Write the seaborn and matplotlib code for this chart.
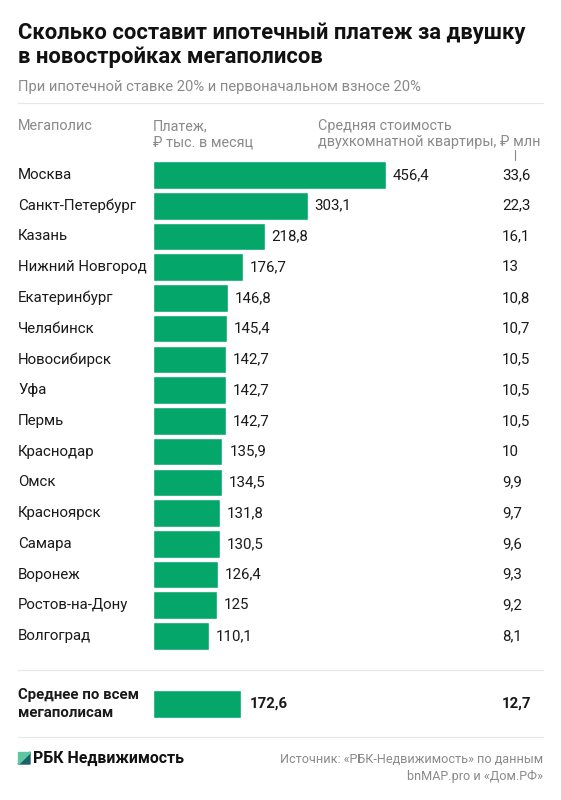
import numpy as np
import matplotlib.pyplot as plt
import matplotlib.patches as mpatches
import matplotlib.transforms as mtransforms
import pandas as pd
import seaborn as sns

sns.set_style('white')
plt.rcParams['font.family'] = ['Roboto', 'DejaVu Sans']

cities = ['Москва', 'Санкт-Петербург', 'Казань', 'Нижний Новгород', 'Екатеринбург',
          'Челябинск', 'Новосибирск', 'Уфа', 'Пермь', 'Краснодар', 'Омск',
          'Красноярск', 'Самара', 'Воронеж', 'Ростов-на-Дону', 'Волгоград']
payment = [456.4, 303.1, 218.8, 176.7, 146.8, 145.4, 142.7, 142.7, 142.7,
           135.9, 134.5, 131.8, 130.5, 126.4, 125, 110.1]
price = [33.6, 22.3, 16.1, 13, 10.8, 10.7, 10.5, 10.5, 10.5, 10, 9.9, 9.7,
         9.6, 9.3, 9.2, 8.1]
avg_label = 'Среднее по всем\nмегаполисам'
avg_payment = 172.6
avg_price = 12.7

green = '#04a66a'
grey = '#8a8a8a'
W, H = 561, 800

def fx(px):
    return px / W

def fy(py):
    return 1 - py / H

def fmt(v):
    s = ('%.1f' % v).replace('.', ',')
    return s[:-2] if s.endswith(',0') else s

df = pd.DataFrame({'city': cities, 'payment': payment, 'price': price})

fig = plt.figure(figsize=(5.61, 8), dpi=100)

# main bars
top, bot = 159.6, 651.4
ax = fig.add_axes([fx(153), fy(bot), fx(386 - 153), (bot - top) / H])
sns.barplot(data=df, y='city', x='payment', orient='h', color=green,
            width=0.9, saturation=1, ax=ax)
ax.set_xlim(0, 456.4)
ax.axis('off')
rowtr = mtransforms.blended_transform_factory(fig.transFigure, ax.transData)
for i, (c, p, r) in enumerate(zip(cities, payment, price)):
    ax.annotate(fmt(p), (p, i), xytext=(5, 0), textcoords='offset points',
                va='center', ha='left', fontsize=10.8, color='#1a1a1a')
    ax.text(fx(502), i, fmt(r), transform=rowtr,
            va='center', ha='left', fontsize=10.8, color='#1a1a1a')
    ax.text(fx(18), i, c, transform=rowtr,
            va='center', ha='left', fontsize=10.8, color='#1a1a1a')

# average bar
ax2 = fig.add_axes([fx(153), fy(718), fx(386 - 153), 28 / H])
sns.barplot(x=[avg_payment], y=['avg'], orient='h', color=green, width=1,
            saturation=1, ax=ax2)
ax2.set_xlim(0, 456.4)
ax2.set_ylim(0.5, -0.5)
ax2.axis('off')
ax2.annotate(fmt(avg_payment), (avg_payment, 0), xytext=(6, 0),
             textcoords='offset points', va='center', ha='left',
             fontsize=10.8, fontweight='bold', color='#1a1a1a')
fig.text(fx(502), fy(704), fmt(avg_price), va='center', ha='left',
         fontsize=10.8, fontweight='bold', color='#1a1a1a')
fig.text(fx(18), fy(704), avg_label, va='center', ha='left', fontsize=10.8,
         fontweight='bold', color='#1a1a1a', linespacing=1.3)

# title / subtitle
fig.text(fx(18), fy(45), 'Сколько составит ипотечный платеж за двушку\nв новостройках мегаполисов',
         va='center', ha='left', fontsize=15.8, fontweight='bold', color='#111111',
         linespacing=1.1)
fig.text(fx(18), fy(87), 'При ипотечной ставке 20% и первоначальном взносе 20%',
         va='center', ha='left', fontsize=10.6, color=grey)

# headers
fig.text(fx(18), fy(126), 'Мегаполис', va='center', ha='left', fontsize=10.4, color=grey)
fig.text(fx(153), fy(134), 'Платеж,\n₽ тыс. в месяц', va='center', ha='left',
         fontsize=10.4, color=grey, linespacing=1.2)
fig.text(fx(318), fy(134), 'Средняя стоимость\nдвухкомнатной квартиры, ₽ млн',
         va='center', ha='left', fontsize=10.4, color=grey, linespacing=1.2)
fig.add_artist(plt.Line2D([fx(515), fx(515)], [fy(150), fy(160)],
                          color=grey, lw=0.8))

# separators
for yy in (103, 670, 737):
    fig.add_artist(plt.Line2D([fx(18), fx(543)], [fy(yy), fy(yy)],
                              color='#e8e8e8', lw=0.9))

# logo
x0, y0, s = 18, 752, 12
fig.add_artist(mpatches.Polygon([(fx(x0), fy(y0 + s)), (fx(x0 + s), fy(y0)), (fx(x0 + s), fy(y0 + s))],
                                closed=True, color='#1d5f6b', transform=fig.transFigure))
fig.add_artist(mpatches.Polygon([(fx(x0), fy(y0 + s)), (fx(x0), fy(y0)), (fx(x0 + s), fy(y0))],
                                closed=True, color='#5cc7a0', transform=fig.transFigure))
fig.text(fx(33), fy(758), 'РБК Недвижимость', va='center', ha='left',
         fontsize=11.4, fontweight='bold', color='#111111')
fig.text(fx(543), fy(768), 'Источник: «РБК-Недвижимость» по данным\nbnMAP.pro и «Дом.РФ»',
         va='center', ha='right', fontsize=9.1, color=grey, linespacing=1.3)

fig.savefig('out.png', dpi=100, facecolor='white')
